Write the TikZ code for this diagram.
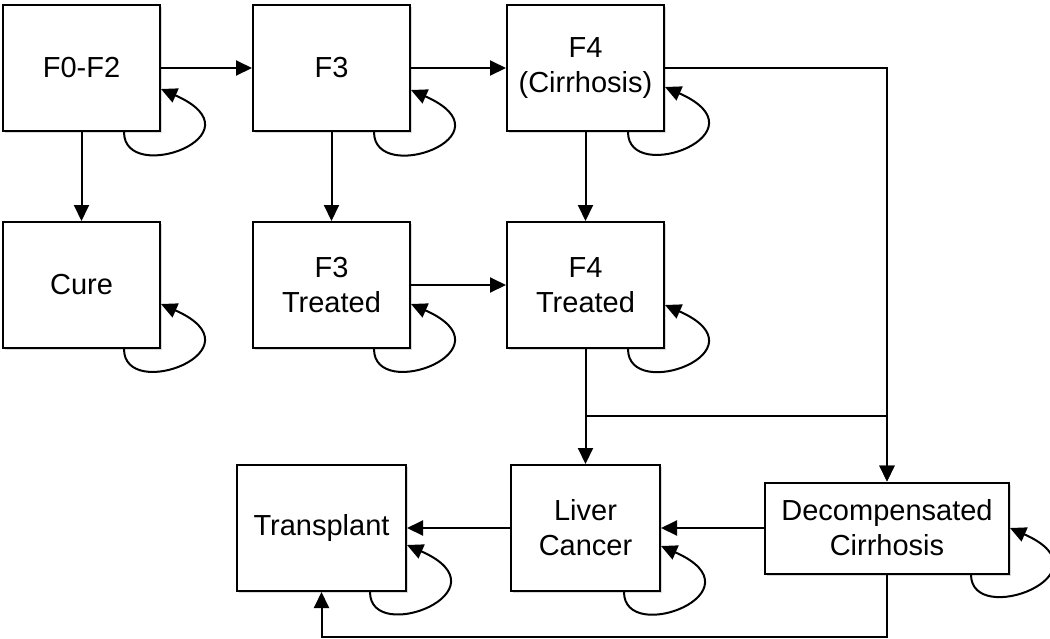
\documentclass[tikz,border=0pt]{standalone}
\usepackage{fontspec}
\setmainfont{Liberation Sans}
\usetikzlibrary{shapes, arrows, arrows.meta, shadows, positioning}
\tikzstyle{stage} = [rectangle, minimum width=78.5pt, minimum height=63pt, text centered, align=center, draw=black, line width=1pt, fill=white, drop shadow={shadow xshift=1.2pt, shadow yshift=-1.2pt, opacity=0.3}, font=\fontsize{14.5}{17.5}\selectfont]
\tikzstyle{edge} = [line width=1pt, -{Triangle[length=8pt, width=7.5pt]}]

\begin{document}
\begin{tikzpicture}[node distance=125pt]
\useasboundingbox (0,0) rectangle (525pt,-319pt);

\node (0) [stage] at (40.75pt,-34pt) {F0-F2};
\node (1) [stage, right of=0] {F3};
\node (2) [stage, xshift=2pt, right of=1] {F4\\(Cirrhosis)};
\node (3) [stage, yshift=16.5pt, below of=0] {Cure};
\node (4) [stage, yshift=16.5pt, below of=1] {F3\\Treated};
\node (5) [stage, yshift=16.5pt, below of=2] {F4\\Treated};
\node (6) [stage, minimum width=74.5pt, yshift=3.5pt, below of=5] {Liver\\Cancer};
\node (7) [stage, minimum width=84.5pt, xshift=-7pt, left of=6] {Transplant};
\node (8) [stage, minimum width=122pt, minimum height=45.5pt, xshift=25.75pt, right of=6] {Decompensated\\Cirrhosis};
\coordinate (9) at ([yshift=-33.5pt]5.south);
\coordinate (10) at ([yshift=-31pt]8.south);

\draw [edge] (0) -- (1);
\draw [edge] (1) -- (2);
\draw [edge] (0) -- (3);
\draw [edge] (1) -- (4);
\draw [edge] (2) -- (5);
\draw [edge] (4) -- (5);
\draw [edge] (2) -| (8);
\draw [edge] (5) -- (6);
\draw [edge] (5) -- (9) -| (8);
\draw [edge] (8) -- (6);
\draw [edge] (6) -- (7);
\draw [edge] (8) -- (10) -| (7);

% self loops
\draw [edge] ([xshift=-18.5pt]0.south east) .. controls +(0,-27pt) and +(52pt,-23pt) .. ([yshift=-10.5pt]0.east);
\draw [edge] ([xshift=-18.5pt]1.south east) .. controls +(0,-27pt) and +(52pt,-23pt) .. ([yshift=-11pt]1.east);
\draw [edge] ([xshift=-18.5pt]2.south east) .. controls +(0,-27pt) and +(52pt,-23pt) .. ([yshift=-9.5pt]2.east);
\draw [edge] ([xshift=-18.5pt]3.south east) .. controls +(0,-27pt) and +(52pt,-23pt) .. ([yshift=-9.5pt]3.east);
\draw [edge] ([xshift=-18.5pt]4.south east) .. controls +(0,-27pt) and +(52pt,-23pt) .. ([yshift=-9.5pt]4.east);
\draw [edge] ([xshift=-18.5pt]5.south east) .. controls +(0,-27pt) and +(52pt,-23pt) .. ([yshift=-10pt]5.east);
\draw [edge] ([xshift=-18.5pt]6.south east) .. controls +(0,-27pt) and +(52pt,-23pt) .. ([yshift=-9pt]6.east);
\draw [edge] ([xshift=-18.5pt]7.south east) .. controls +(0,-27pt) and +(52pt,-23pt) .. ([yshift=-8.5pt]7.east);
\draw [edge] ([xshift=-19.5pt]8.south east) .. controls +(0,-27pt) and +(52pt,-23pt) .. (8.east);

\end{tikzpicture}
\end{document}
